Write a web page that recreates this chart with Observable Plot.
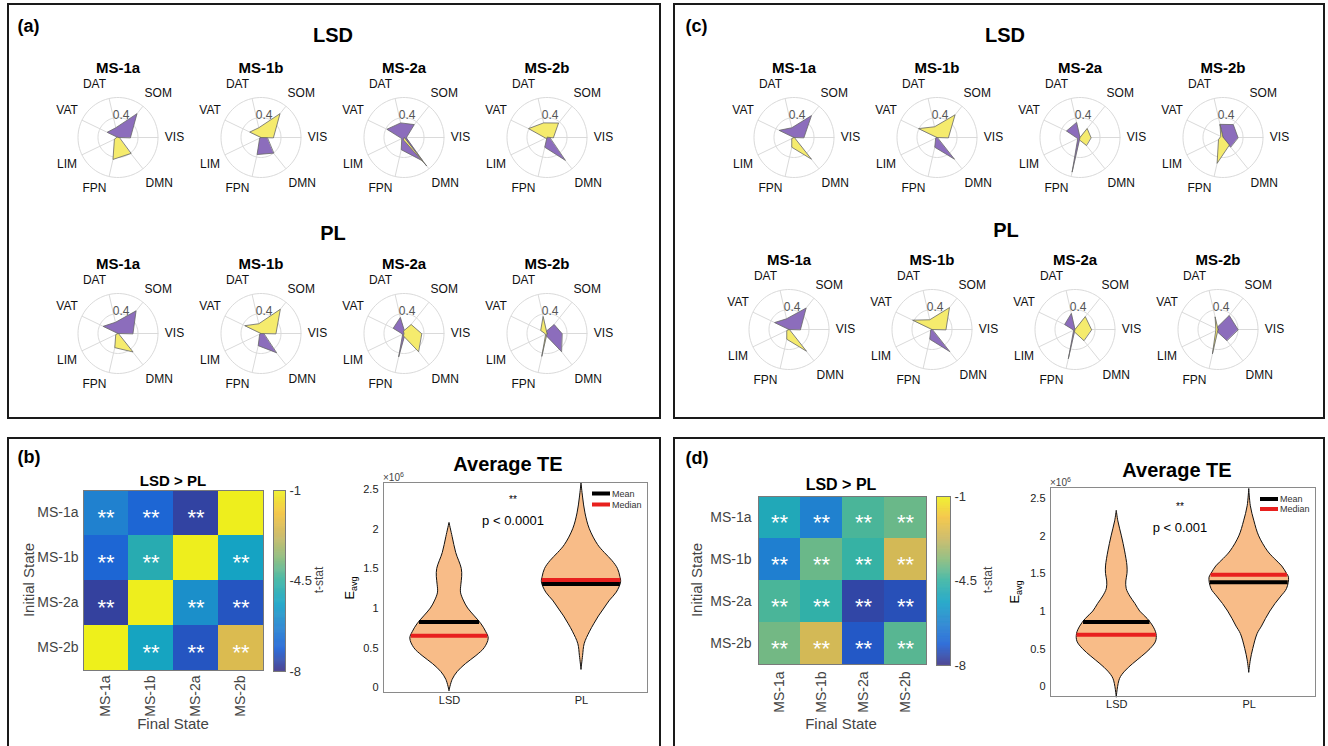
<!DOCTYPE html>
<html><head><meta charset="utf-8">
<script src="https://cdn.jsdelivr.net/npm/d3@7"></script>
<script src="https://cdn.jsdelivr.net/npm/@observablehq/plot@0.6"></script>
<style>
html,body{margin:0;padding:0;background:#fff;}
body{width:1328px;height:746px;position:relative;overflow:hidden;font-family:"Liberation Sans",Arial,Helvetica,sans-serif;color:#000;}
.box{position:absolute;border:2px solid #1a1a1a;box-sizing:border-box;}
.pl{position:absolute;}
.t{position:absolute;white-space:nowrap;line-height:1;}
</style></head><body>
<script>
// ---------------- DATA ----------------
const networks = ["VIS","SOM","DAT","VAT","LIM","FPN","DMN"];
const states = ["MS-1a","MS-1b","MS-2a","MS-2b"];
const rRings = [0.4, 0.8];
const rTicks = [0.4];

// radar values: rows = states, cols = networks (purple = positive part, yellow = negative part)
const aLSDpurple = [[0.25,0.61,0.20,0.24,0,0,0],[0.12,0,0,0,0.03,0.35,0.40],[0.05,0.33,0.30,0.38,0.05,0.25,0.60],[0.05,0,0,0,0,0.20,0.58]];
const aLSDyellow = [[0.02,0,0,0.02,0.08,0.45,0.41],[0.25,0.61,0.20,0.25,0,0,0],[0,0,0,0,0,0.05,0.72],[0.13,0.37,0.30,0.41,0.03,0.03,0]];
const aPLpurple  = [[0.30,0.58,0.23,0.33,0,0,0],[0.05,0,0,0,0.03,0.25,0.49],[0.03,0.03,0.33,0.24,0.03,0.48,0.03],[0.30,0.23,0.05,0,0,0.05,0.46]];
const aPLyellow  = [[0,0,0,0,0.05,0.29,0.47],[0.30,0.62,0.20,0.36,0,0,0],[0.35,0.23,0.05,0,0,0.05,0.46],[0,0,0.35,0.14,0.03,0.47,0]];
const cLSDpurple = [[0.20,0.56,0.20,0.33,0,0,0],[0,0,0,0,0.03,0.20,0.55],[0.03,0,0.31,0.30,0.05,0.71,0],[0.30,0.33,0.27,0,0,0.05,0.24]];
const cLSDyellow = [[0,0,0,0,0.05,0.20,0.55],[0.23,0.58,0.22,0.41,0,0,0],[0.22,0.23,0,0,0,0.05,0.20],[0,0,0.27,0.05,0.10,0.53,0.20]];
const cPLpurple  = [[0.23,0.55,0.22,0.32,0,0,0],[0,0,0,0,0.03,0.20,0.56],[0.03,0,0.33,0.23,0.03,0.60,0],[0.40,0.36,0.05,0,0,0.05,0.28]];
const cPLyellow  = [[0,0,0,0,0.05,0.20,0.55],[0.28,0.56,0.20,0.43,0,0,0],[0.33,0.33,0,0,0,0.05,0.28],[0,0,0.26,0.05,0.05,0.50,0]];

// t-stat heatmaps (rows = initial state, cols = final state)
const heatB = [[-6.3,-7.0,-7.7,-1.05],[-7.0,-4.9,-1.05,-5.35],[-7.75,-1.05,-5.9,-7.35],[-1.0,-5.3,-7.35,-2.4]];
const sigB  = [[1,1,1,0],[1,1,0,1],[1,0,1,1],[0,1,1,1]];
const heatD = [[-5.05,-6.3,-4.3,-3.95],[-6.35,-3.95,-4.55,-2.55],[-4.3,-4.65,-7.65,-7.45],[-3.85,-2.55,-7.3,-4.15]];
const sigD  = [[1,1,1,1],[1,1,1,1],[1,1,1,1],[1,1,1,1]];
const cbarTicks = [-8, -4.5, -1];

// violin profiles (value in 1e6, relative half-width)
const groups = ["LSD","PL"];
const vB_LSD_y = [-0.04,0.1,0.2,0.3,0.4,0.5,0.62,0.7,0.8,0.9,1.0,1.1,1.2,1.3,1.4,1.5,1.7,1.9,2.08];
const vB_LSD_w = [0,0.08,0.21,0.42,0.68,0.89,0.99,0.93,0.81,0.64,0.47,0.36,0.29,0.30,0.32,0.31,0.17,0.08,0];
const vB_PL_y  = [0.23,0.4,0.55,0.7,0.8,0.9,1.0,1.1,1.2,1.33,1.4,1.5,1.6,1.7,1.8,2.0,2.2,2.4,2.58];
const vB_PL_w  = [0,0.04,0.08,0.21,0.32,0.44,0.58,0.72,0.89,1.0,0.98,0.92,0.78,0.59,0.42,0.21,0.10,0.04,0];
const vD_LSD_y = [-0.14,0.1,0.2,0.3,0.4,0.5,0.6,0.7,0.8,0.9,1.0,1.1,1.2,1.3,1.4,1.5,1.6,1.8,2.0,2.2,2.34];
const vD_LSD_w = [0,0.08,0.21,0.41,0.64,0.85,0.99,1.0,0.92,0.78,0.59,0.47,0.34,0.25,0.24,0.27,0.27,0.21,0.13,0.04,0];
const vD_PL_y  = [0.19,0.35,0.5,0.7,0.8,0.9,1.0,1.1,1.2,1.3,1.45,1.5,1.6,1.7,1.8,2.0,2.2,2.4,2.63];
const vD_PL_w  = [0,0.04,0.10,0.21,0.32,0.42,0.53,0.66,0.81,0.95,1.0,0.95,0.83,0.64,0.47,0.25,0.13,0.04,0];
const meanB = [0.83, 1.31], medianB = [0.655, 1.36];
const meanD = [0.86, 1.39], medianD = [0.69, 1.49];
const yTicksViolin = [0, 0.5, 1, 1.5, 2, 2.5];

// ---------------- STYLE ----------------
const FONT = "Liberation Sans, Arial, Helvetica, sans-serif";
const PURPLE = "#8c6dbc", YELLOW = "#f5eb6d", EDGE = "#676767", GRID = "#dadada";
const VIOLIN = "#f8bc88";
const parula = d3.piecewise(d3.interpolateRgb, ["#352a87","#0f5cdd","#1481d6","#06a4ca","#2eb7a4","#87bf77","#d1bb59","#fec832","#f9fb0e"]);
const muted = t => d3.interpolateRgb(parula(t), "#8f8f8f")(0.1);
const colorOpts = {type: "linear", domain: [-8, -1], interpolate: t => muted(t)};

// ---------------- HELPERS ----------------
function place(node, left, top) {
  const d = document.createElement("div");
  d.className = "pl"; d.style.left = left + "px"; d.style.top = top + "px";
  d.appendChild(node); document.body.appendChild(d); return d;
}
function box(l, t, w, h) {
  const d = document.createElement("div"); d.className = "box";
  Object.assign(d.style, {left: l+"px", top: t+"px", width: w+"px", height: h+"px"});
  document.body.appendChild(d);
}
function txt(x, y, html, css = {}, anchor = "middle", rot = false) {
  const d = document.createElement("div"); d.className = "t"; d.innerHTML = html;
  Object.assign(d.style, {left: x+"px", top: y+"px"}, css);
  const tx = anchor === "middle" ? "-50%" : anchor === "end" ? "-100%" : "0";
  d.style.transform = `translate(${tx},-50%)` + (rot ? " rotate(-90deg)" : "");
  document.body.appendChild(d);
}

// ---------------- PANEL FRAMES ----------------
box(7, 3, 654, 416); box(673, 3, 652, 416);
box(7, 437, 654, 330); box(673, 437, 652, 330);
txt(28.5, 26, "(a)", {fontSize: "18px", fontWeight: "bold"});
txt(696.5, 26, "(c)", {fontSize: "18px", fontWeight: "bold"});
txt(29, 457, "(b)", {fontSize: "18px", fontWeight: "bold"});
txt(697, 458, "(d)", {fontSize: "18px", fontWeight: "bold"});

// ---------------- RADAR ROWS ----------------
const UNIT = 50; // px per unit
const ang = j => j * 2 * Math.PI / networks.length;
const labelR = 1.13;
const labelDx = [0, 5, -11, 0, 0, -11, 6];
const labelDy = [0, 0, 2, -3, 2, -4, 1];
function radarRow(purple, yellow, cx, cy) {
  const pts = arr => states.flatMap((s, i) => networks.map((n, j) => ({state: s, x: arr[i][j] * Math.cos(ang(j)), y: arr[i][j] * Math.sin(ang(j))})));
  const rings = rRings.flatMap(r => d3.range(0, 361, 4).map(a => ({r, x: r * Math.cos(a * Math.PI / 180), y: r * Math.sin(a * Math.PI / 180)})));
  const rMax = d3.max(rRings);
  const spokes = networks.map((n, j) => ({x: rMax * Math.cos(ang(j)), y: rMax * Math.sin(ang(j))}));
  const plot = Plot.plot({
    width: 572, height: 142, margin: 0,
    style: {fontFamily: FONT, overflow: "visible", background: "transparent"},
    fx: {domain: states, padding: 0, axis: null},
    x: {domain: [-1.43, 1.43], axis: null},
    y: {domain: [-1.3, 1.54], axis: null},
    marks: [
      Plot.line(rings, {x: "x", y: "y", z: "r", stroke: GRID, strokeWidth: 1}),
      Plot.link(spokes, {x1: 0, y1: 0, x2: "x", y2: "y", stroke: GRID, strokeWidth: 1}),
      Plot.line(pts(purple), {fx: "state", x: "x", y: "y", fill: PURPLE, stroke: EDGE, strokeWidth: 0.8, curve: "linear-closed"}),
      Plot.line(pts(yellow), {fx: "state", x: "x", y: "y", fill: YELLOW, stroke: EDGE, strokeWidth: 0.8, curve: "linear-closed"}),
      Plot.text(rTicks, {x: r => (r + 0.045) * Math.cos(82 * Math.PI / 180), y: r => (r + 0.045) * Math.sin(82 * Math.PI / 180), text: r => String(r), fontSize: 12, fill: "#555"}),
      Plot.text(networks, {x: (d, j) => labelR * Math.cos(ang(j)) + labelDx[j] / UNIT, y: (d, j) => labelR * Math.sin(ang(j)) - labelDy[j] / UNIT, text: d => d, fontSize: 12, fill: "#111"}),
      Plot.text(states, {fx: d => d, frameAnchor: "top", lineAnchor: "middle", dy: 8, text: d => d, fontSize: 15, fontWeight: "bold"})
    ]
  });
  place(plot, cx - 71.5, cy - 77);
}
radarRow(aLSDpurple, aLSDyellow, 117, 137);
radarRow(aPLpurple, aPLyellow, 117, 333);
radarRow(cLSDpurple, cLSDyellow, 793, 137);
radarRow(cPLpurple, cPLyellow, 788, 329);
txt(333, 35, "LSD", {fontSize: "20px", fontWeight: "bold"});
txt(333, 233, "PL", {fontSize: "20px", fontWeight: "bold"});
txt(1005, 35, "LSD", {fontSize: "20px", fontWeight: "bold"});
txt(1006, 230, "PL", {fontSize: "20px", fontWeight: "bold"});

// ---------------- HEATMAPS ----------------
function heatmap(vals, sig, {left, top, size, padTick}) {
  const cells = states.flatMap((ini, i) => states.map((fin, j) => ({initial: ini, final: fin, t: vals[i][j], sig: sig[i][j]})));
  const W = 300, mL = 90, mT = 20;
  return place(Plot.plot({
    width: W, height: size + 80, marginLeft: mL, marginTop: mT, marginRight: W - mL - size, marginBottom: 60,
    style: {fontFamily: FONT, overflow: "visible", background: "transparent", color: "#444"},
    x: {domain: states, padding: 0},
    y: {domain: states, padding: 0},
    color: colorOpts,
    marks: [
      Plot.cell(cells, {x: "final", y: "initial", fill: "t", inset: 0}),
      Plot.text(cells.filter(d => d.sig), {x: "final", y: "initial", text: () => "**", fill: "white", fontSize: 22, dy: 5}),
      Plot.frame({stroke: "#7a7a7a"}),
      Plot.axisX({anchor: "bottom", tickRotate: -90, tickSize: 0, tickPadding: padTick, fontSize: 14, label: null}),
      Plot.axisY({anchor: "left", tickSize: 0, tickPadding: padTick, fontSize: 14, label: null})
    ]
  }), left - mL, top - mT);
}
function colorbar({left, top, w, h}) {
  const steps = d3.range(-8, -1, 0.02);
  return place(Plot.plot({
    width: w + 50, height: h + 20, marginLeft: 0, marginRight: 50, marginTop: 10, marginBottom: 10,
    style: {fontFamily: FONT, overflow: "visible", background: "transparent", color: "#333"},
    x: {domain: [0, 1], axis: null},
    y: {domain: [-8, -1], axis: null},
    color: colorOpts,
    marks: [
      Plot.rect(steps, {x1: 0, x2: 1, y1: d => d, y2: d => Math.min(-1, d + 0.03), fill: d => d + 0.01}),
      Plot.frame({stroke: "#7a7a7a"}),
      Plot.axisY({anchor: "right", ticks: cbarTicks, tickFormat: d => String(d), tickSize: 0, tickPadding: 4, fontSize: 13, label: null})
    ]
  }), left, top - 10);
}
heatmap(heatB, sigB, {left: 83, top: 490, size: 180, padTick: 5});
colorbar({left: 273, top: 490, w: 12, h: 181});
txt(173, 480, "LSD &gt; PL", {fontSize: "15px", fontWeight: "bold"});
txt(28, 580, "Initial State", {fontSize: "15px", color: "#444"}, "middle", true);
txt(173, 723, "Final State", {fontSize: "15px", color: "#444"});
txt(319, 580, "t-stat", {fontSize: "12px", color: "#444"}, "middle", true);

heatmap(heatD, sigD, {left: 758, top: 496, size: 168, padTick: 7});
colorbar({left: 936, top: 496, w: 14, h: 169});
txt(841, 485, "LSD &gt; PL", {fontSize: "16px", fontWeight: "bold"});
txt(696, 580, "Initial State", {fontSize: "15px", color: "#444"}, "middle", true);
txt(841, 723, "Final State", {fontSize: "15px", color: "#444"});
txt(988, 580, "t-stat", {fontSize: "12px", color: "#444"}, "middle", true);

// ---------------- VIOLINS ----------------
const HALF = 0.3;
function halfAt(ys, ws, v) {
  for (let i = 1; i < ys.length; i++) if (v <= ys[i]) { const f = (v - ys[i-1]) / (ys[i] - ys[i-1]); return ws[i-1] + f * (ws[i] - ws[i-1]); }
  return 0;
}
function violin(profiles, means, medians, yDomain, {left, top, fw, fh}) {
  const shapes = profiles.flatMap(([ys, ws], g) => ys.map((y, i) => ({g, y, x1: g + 1 - ws[i] * HALF, x2: g + 1 + ws[i] * HALF})));
  const lines = (vals, kind) => vals.map((v, g) => { const h = halfAt(profiles[g][0], profiles[g][1], v) * HALF; return {kind, y: v, x1: g + 1 - h, x2: g + 1 + h}; });
  const mL = 50, mT = 12, mB = 30, mR = 13;
  return place(Plot.plot({
    width: mL + fw + mR, height: mT + fh + mB, marginLeft: mL, marginTop: mT, marginBottom: mB, marginRight: mR,
    style: {fontFamily: FONT, overflow: "visible", background: "transparent", color: "#222"},
    x: {domain: [0.5, 2.5]},
    y: {domain: yDomain},
    marks: [
      Plot.areaX(shapes, {y: "y", x1: "x1", x2: "x2", z: "g", fill: VIOLIN, stroke: "#111", strokeWidth: 1, curve: "catmull-rom"}),
      Plot.ruleY(lines(means, "mean"), {y: "y", x1: "x1", x2: "x2", stroke: "#000", strokeWidth: 4}),
      Plot.ruleY(lines(medians, "median"), {y: "y", x1: "x1", x2: "x2", stroke: "#e8201e", strokeWidth: 4}),
      Plot.frame({stroke: "#8a8a8a"}),
      Plot.axisX({ticks: [1, 2], tickFormat: d => groups[d - 1], tickSize: 0, tickPadding: 4, fontSize: 11, label: null}),
      Plot.axisY({ticks: yTicksViolin, tickFormat: d => String(d), tickSize: 0, tickPadding: 5, fontSize: 11, label: null})
    ]
  }), left - mL, top - mT);
}
function legend(x, y, gap) {
  const d = document.createElement("div");
  d.className = "pl"; d.style.left = x + "px"; d.style.top = (y - 3) + "px";
  d.innerHTML = `<div style="display:flex;align-items:center;height:${gap}px;font-size:9px;color:#333"><span style="display:inline-block;width:18px;height:4px;background:#000;margin-right:2px"></span>Mean</div>` +
                `<div style="display:flex;align-items:center;height:${gap}px;font-size:9px;color:#333"><span style="display:inline-block;width:18px;height:4px;background:#e8201e;margin-right:2px"></span>Median</div>`;
  d.style.transform = `translateY(-${gap/2 - 3}px)`;
  document.body.appendChild(d);
}
violin([[vB_LSD_y, vB_LSD_w], [vB_PL_y, vB_PL_w]], meanB, medianB, [-0.06, 2.59], {left: 383, top: 482, fw: 264, fh: 210});
txt(508, 464, "Average TE", {fontSize: "20px", fontWeight: "bold"});
txt(383, 477, "&times;10<sup style='font-size:7px'>6</sup>", {fontSize: "10px", color: "#444"}, "start");
txt(351, 588, "E<sub style='font-size:9px'>avg</sub>", {fontSize: "13px"}, "middle", true);
txt(513, 500, "**", {fontSize: "10px", color: "#000"});
txt(513, 520, "p &lt; 0.0001", {fontSize: "13px", color: "#000"});
legend(592, 493, 11);

violin([[vD_LSD_y, vD_LSD_w], [vD_PL_y, vD_PL_w]], meanD, medianD, [-0.13, 2.65], {left: 1050, top: 487, fw: 265, fh: 209});
txt(1177, 470, "Average TE", {fontSize: "20px", fontWeight: "bold"});
txt(1050, 482, "&times;10<sup style='font-size:7px'>6</sup>", {fontSize: "10px", color: "#444"}, "start");
txt(1016, 592, "E<sub style='font-size:9px'>avg</sub>", {fontSize: "13px"}, "middle", true);
txt(1180, 507, "**", {fontSize: "10px", color: "#000"});
txt(1180, 527, "p &lt; 0.001", {fontSize: "13px", color: "#000"});
legend(1260, 499, 10);
</script>
</body></html>
